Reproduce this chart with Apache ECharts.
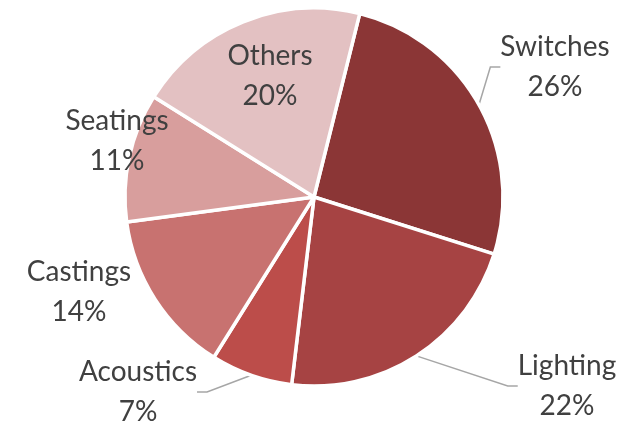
<!DOCTYPE html>
<html>
<head>
<meta charset="utf-8">
<script src="https://cdn.jsdelivr.net/npm/echarts@6/dist/echarts.min.js"></script>
<style>
  html, body { margin: 0; padding: 0; background: #ffffff; }
  #chart { width: 635px; height: 426px; }
</style>
</head>
<body>
<div id="chart"></div>
<script>
// Product share by segment (percent), listed clockwise from the top
const categories = ['Switches', 'Lighting', 'Acoustics', 'Castings', 'Seatings', 'Others'];
const shares = [26, 22, 7, 14, 11, 20];

// Slice fills, darkest to lightest
const sliceColors = ['#8b3636', '#a64343', '#bc4d4a', '#c87270', '#d89e9d', '#e3c1c2'];
// Which labels get a leader line
const showLeader = [true, true, true, false, false, false];
// Label anchor points (centre of the two-line label block)
const labelSpots = [[555, 67], [567, 386], [138, 392], [79, 292], [117, 141], [270, 76]];

const chart = echarts.init(document.getElementById('chart'), null, { renderer: 'canvas' });

const data = categories.map((name, i) => ({
  name,
  value: shares[i],
  itemStyle: { color: sliceColors[i] },
  labelLine: { show: showLeader[i] }
}));

chart.setOption({
  animation: false,
  series: [{
    type: 'pie',
    center: [314, 197],
    radius: 189,
    startAngle: 76,
    clockwise: true,
    data,
    itemStyle: { borderColor: '#ffffff', borderWidth: 3.5 },
    label: {
      show: true,
      position: 'outside',
      overflow: 'none',
      formatter: p => p.name + '\n' + p.value + '%',
      fontFamily: 'Lato',
      fontSize: 28,
      lineHeight: 40,
      color: '#404040',
      align: 'center'
    },
    labelLine: {
      show: true,
      length: 12,
      length2: 10,
      lineStyle: { color: '#a6a6a6', width: 1.5 }
    },
    labelLayout: params => {
      const s = labelSpots[params.dataIndex];
      return { x: s[0], y: s[1], align: 'center', verticalAlign: 'middle' };
    },
    emphasis: { disabled: true }
  }]
});
</script>
</body>
</html>
